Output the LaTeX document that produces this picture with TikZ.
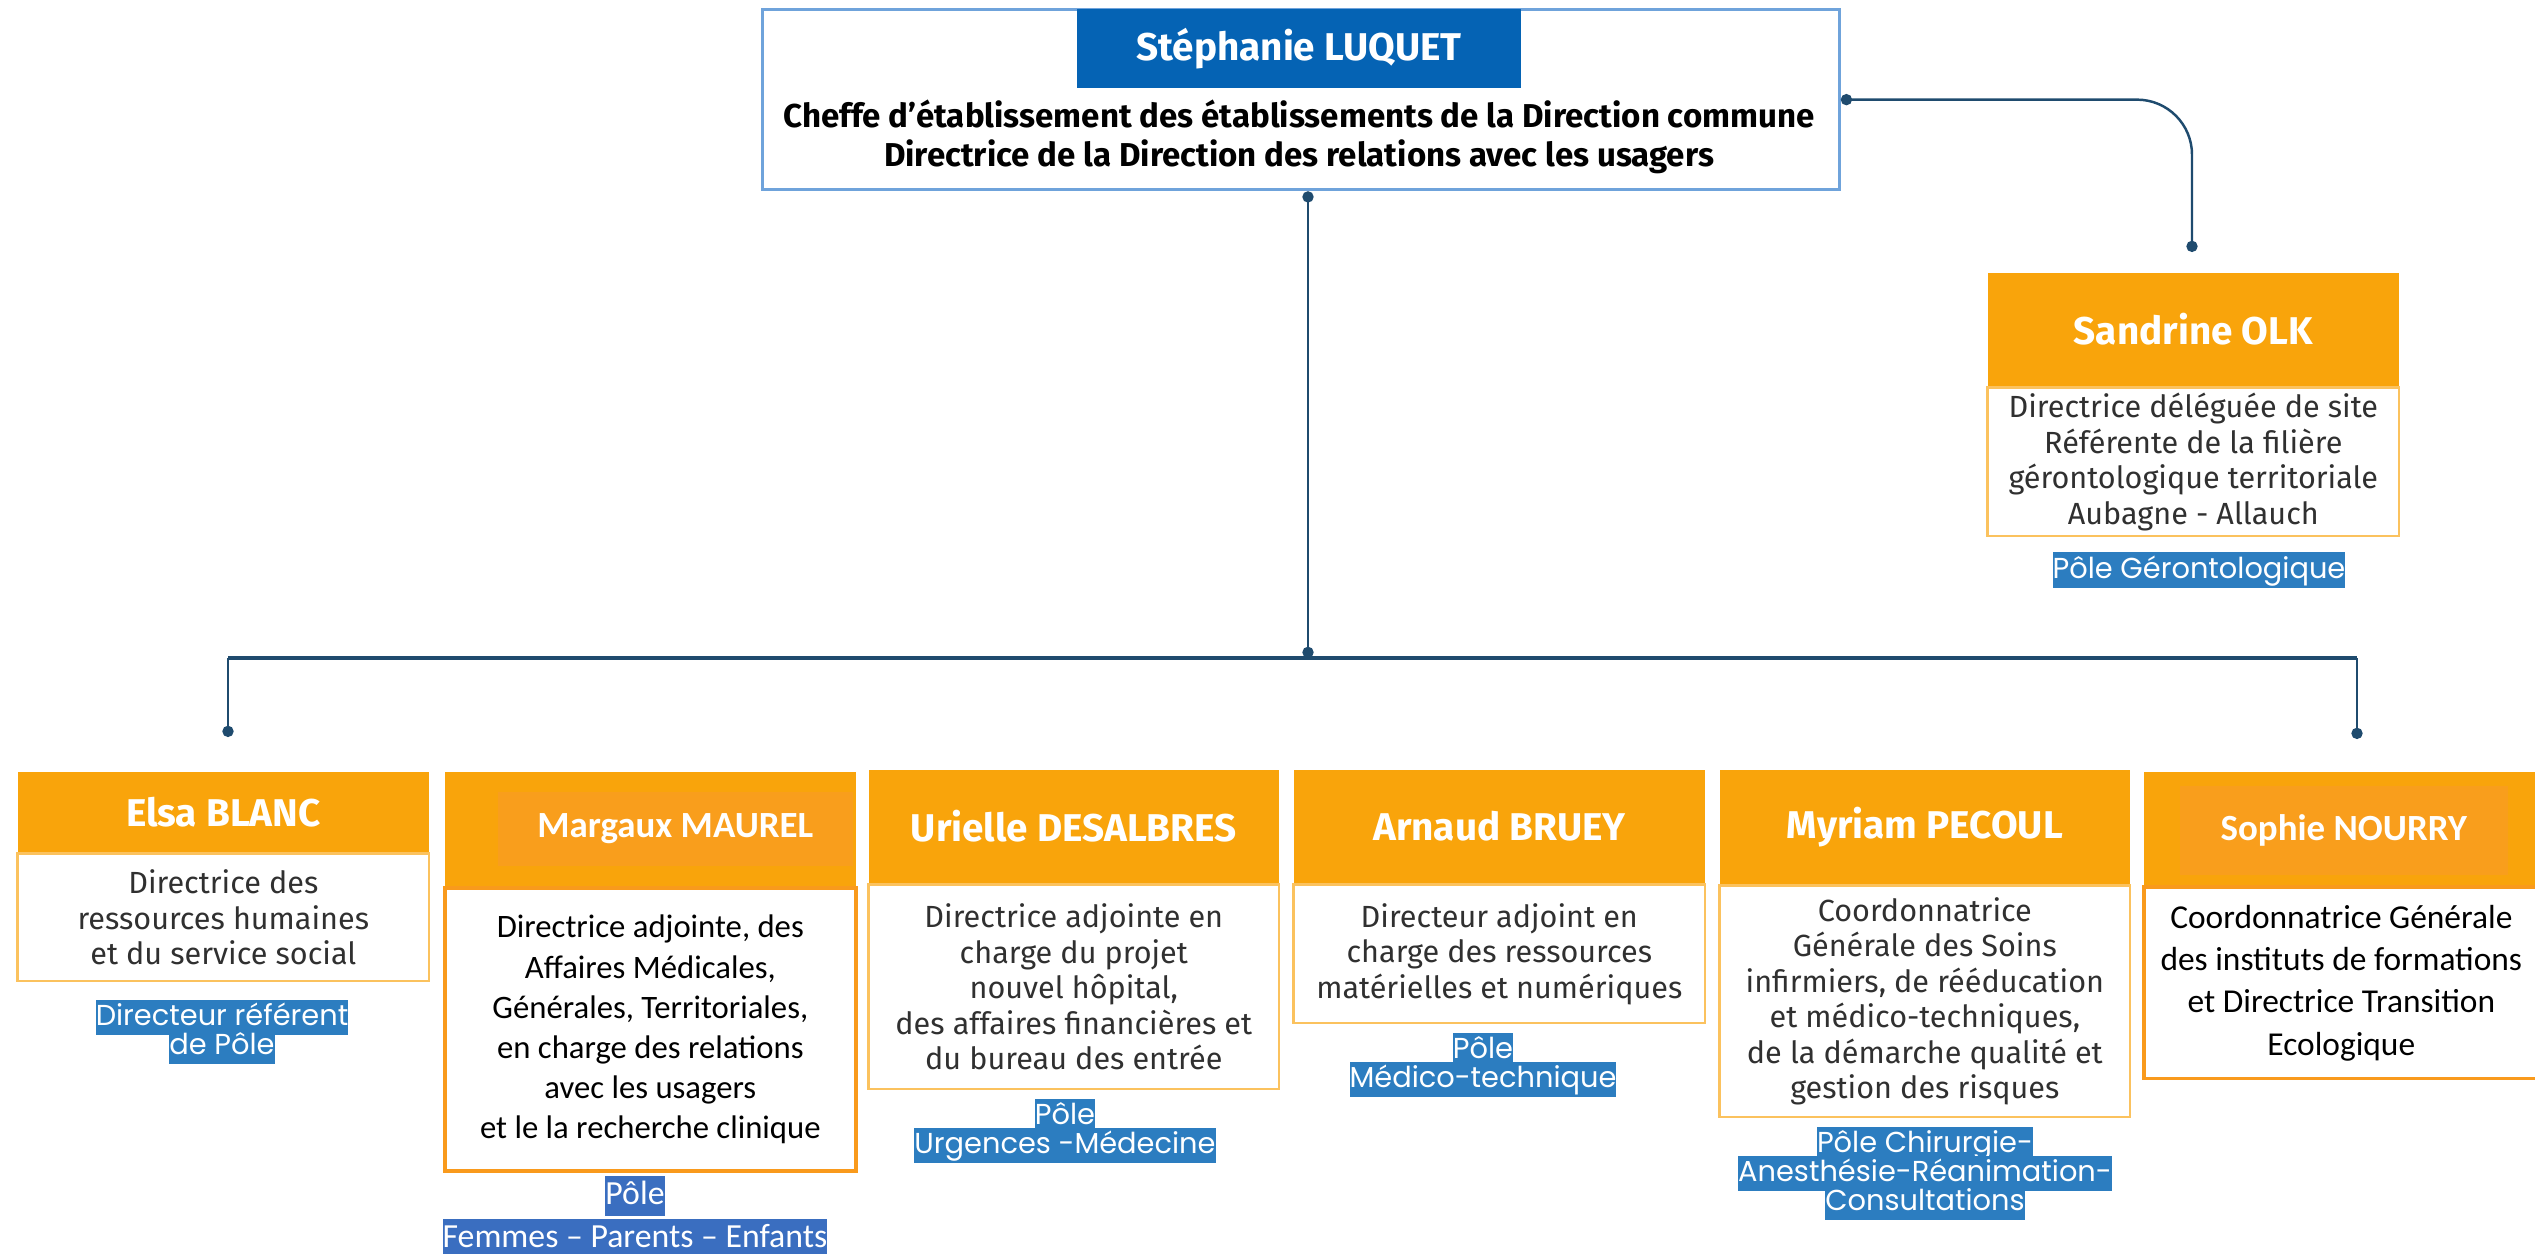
\documentclass[tikz,border=0pt]{standalone}
\usepackage{fontspec}
\setmainfont{Fira Sans}
\newfontfamily\calib{Carlito}
\newfontfamily\popp{Poppins}
\usetikzlibrary{positioning,arrows.meta}

\definecolor{orangeH}{HTML}{F9A40B}
\definecolor{orangeD}{HTML}{F99E1C}
\definecolor{orangeL}{HTML}{FBC25E}
\definecolor{orangeS}{HTML}{F99A1C}
\definecolor{blueH}{HTML}{0563B4}
\definecolor{blueB}{HTML}{6FA3DB}
\definecolor{poleblue}{HTML}{2C7DC0}
\definecolor{poleblueB}{HTML}{3A6EC0}
\definecolor{linkblue}{HTML}{1F4B6E}
\definecolor{txtgray}{HTML}{303030}

\tikzset{
  head/.style={fill=orangeH, text=white, inner sep=0pt, minimum width=4.11cm,
    anchor=north west, font=\fontsize{11}{13}\selectfont\bfseries},
  headC/.style={fill=orangeD, text=white, inner sep=0pt, anchor=north west,
    font=\calib\fontsize{10.5}{12}\selectfont\bfseries},
  body/.style={draw=orangeL, line width=0.8pt, fill=white, inner sep=0pt,
    minimum width=4.11cm, align=center, text=txtgray,
    font=\fontsize{8.7}{10.1}\selectfont},
  bodyC/.style={body, draw=orangeS, line width=1.1pt, text=black},
  pole/.style={fill=poleblue, text=white, inner xsep=0pt, inner ysep=0pt,
    minimum height=0.35cm, text height=2.2mm, text depth=0.6mm,
    font=\popp\fontsize{8.2}{9}\selectfont},
  poleC/.style={fill=poleblueB, text=white, inner xsep=0pt, inner ysep=0pt,
    minimum height=0.40cm, text height=2.4mm, text depth=0.7mm,
    font=\calib\fontsize{9.6}{11}\selectfont},
  link/.style={draw=linkblue, line width=0.7pt},
  bus/.style={draw=linkblue, line width=1.1pt},
  dots/.style={{Circle[length=3.2pt]}-{Circle[length=3.2pt]}},
  dotend/.style={-{Circle[length=3.2pt]}}
}

\begin{document}
\begin{tikzpicture}[x=0.01cm, y=-0.01cm]
  \useasboundingbox (0,0) rectangle (2535,1254);

  % direction commune
  \node[draw=blueB, line width=0.9pt, minimum width=10.76cm, minimum height=1.80cm,
    inner sep=0pt, anchor=north west] (top) at (761,8) {};
  \node[fill=blueH, text=white, minimum width=4.43cm, minimum height=0.79cm, inner sep=0pt,
    anchor=north, font=\fontsize{11}{13}\selectfont\bfseries] (luquet) at (1299,8) {Stéphanie LUQUET};
  \node[align=center, inner sep=0pt, font=\fontsize{9.4}{11.1}\selectfont\bfseries] (luquetTxt) at (1299,137)
    {Cheffe d’établissement des établissements de la Direction commune\\
     Directrice de la Direction des relations avec les usagers};

  % site
  \node[head, minimum height=1.13cm] (olk) at (1987,272) {Sandrine OLK};
  \node[body, minimum height=1.48cm, below=0pt of olk] (olkB)
    {Directrice déléguée de site\\Référente de la filière\\gérontologique territoriale\\Aubagne - Allauch};
  \node[pole] (olkP) at (2199,570) {Pôle Gérontologique};

  % directions
  \node[head, minimum height=0.80cm] (blanc) at (17,771) {Elsa BLANC};
  \node[body, minimum height=1.27cm, below=0pt of blanc] (blancB)
    {Directrice des\\ressources humaines\\et du service social};
  \node[pole] (blancP1) at (222,1017) {Directeur référent};
  \node[pole, below=-0.07cm of blancP1] (blancP2) {de Pôle};

  \node[head, minimum height=1.14cm] (maurel) at (444,771) {};
  \node[headC, minimum width=3.55cm, minimum height=0.74cm] (maurelN) at (497,791) {Margaux MAUREL};
  \node[bodyC, minimum height=2.82cm, below=0pt of maurel, font=\calib\fontsize{9.3}{11.4}\selectfont] (maurelB)
    {Directrice adjointe, des\\Affaires Médicales,\\Générales, Territoriales,\\en charge des relations\\avec les usagers\\et le la recherche clinique};
  \node[poleC] (maurelP1) at (635,1196) {Pôle};
  \node[poleC, below=0.02cm of maurelP1] (maurelP2) {Femmes – Parents – Enfants};

  \node[head, minimum width=4.10cm, minimum height=1.13cm] (desalbres) at (868,769) {Urielle DESALBRES};
  \node[body, minimum width=4.10cm, minimum height=2.04cm, below=0pt of desalbres] (desalbresB)
    {Directrice adjointe en\\charge du projet\\nouvel hôpital,\\des affaires financières et\\du bureau des entrée};
  \node[pole] (desalbresP1) at (1065,1116) {Pôle};
  \node[pole, below=-0.07cm of desalbresP1] (desalbresP2) {Urgences -Médecine};

  \node[head, minimum height=1.13cm] (bruey) at (1293,769) {Arnaud BRUEY};
  \node[body, minimum height=1.38cm, below=0pt of bruey] (brueyB)
    {Directeur adjoint en\\charge des ressources\\matérielles et numériques};
  \node[pole] (brueyP1) at (1483,1050) {Pôle};
  \node[pole, below=-0.07cm of brueyP1] (brueyP2) {Médico-technique};

  \node[head, minimum width=4.10cm, minimum height=1.14cm] (pecoul) at (1719,769) {Myriam PECOUL};
  \node[body, minimum width=4.10cm, minimum height=2.31cm, below=0pt of pecoul] (pecoulB)
    {Coordonnatrice\\Générale des Soins\\infirmiers, de rééducation\\et médico-techniques,\\de la démarche qualité et\\gestion des risques};
  \node[pole] (pecoulP1) at (1925,1144) {Pôle Chirurgie-};
  \node[pole, below=-0.07cm of pecoulP1] (pecoulP2) {Anesthésie-Réanimation-};
  \node[pole, below=-0.07cm of pecoulP2] (pecoulP3) {Consultations};

  \node[head, minimum width=3.95cm, minimum height=1.13cm] (nourry) at (2143,771) {};
  \node[headC, minimum width=3.28cm, minimum height=0.89cm] (nourryN) at (2179,785) {Sophie NOURRY};
  \node[bodyC, minimum width=3.95cm, minimum height=1.91cm, below=0pt of nourry, font=\calib\fontsize{9.5}{12}\selectfont] (nourryB)
    {Coordonnatrice Générale\\des instituts de formations\\et Directrice Transition\\Ecologique};

  % liens
  \coordinate (junction) at (1308,658);
  \coordinate (busL) at (228,658);
  \coordinate (busR) at (2357,658);
  \coordinate (blancIn) at (228,737);
  \coordinate (nourryIn) at (2357,739);
  \coordinate (olkIn) at (2192,252);
  \draw[bus] (busL) -- (busR);
  \draw[link, dots] (top.south -| junction) -- (junction);
  \draw[link, dotend] (busL) -- (blancIn);
  \draw[link, dotend] (busR) -- (nourryIn);
  \draw[link, dots, rounded corners=0.55cm] (top.east) -| (olkIn);
\end{tikzpicture}
\end{document}
